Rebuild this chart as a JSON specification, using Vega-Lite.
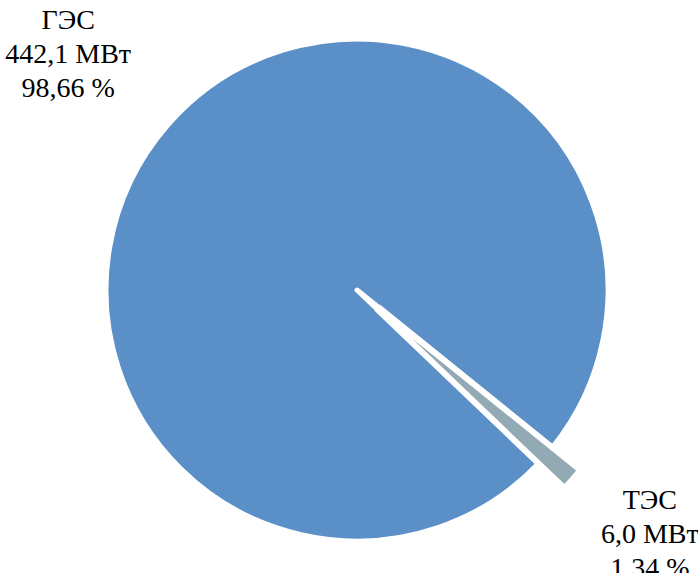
{
  "$schema": "https://vega.github.io/schema/vega-lite/v6.json",
  "width": 682,
  "height": 566,
  "autosize": "none",
  "padding": {"left": 16, "top": 7, "right": 0, "bottom": 0},
  "background": "white",
  "view": {"stroke": null},
  "config": {"font": "Liberation Serif", "text": {"font": "Liberation Serif"}},
  "data": {
    "values": [
      {"name": "ГЭС", "value": 442.1, "label": ["ГЭС", "442,1 МВт", "98,66 %"]},
      {"name": "ТЭС", "value": 6.0, "label": ["ТЭС", "6,0 МВт", "1,34 %"]}
    ]
  },
  "encoding": {
    "theta": {"field": "value", "type": "quantitative", "stack": true, "scale": {"range": [2.3335, 8.6167]}},
    "order": {"field": "name", "sort": "ascending"},
    "color": {"field": "name", "type": "nominal", "scale": {"domain": ["ГЭС", "ТЭС"], "range": ["#5B8FC7", "#93AAB4"]}, "legend": null}
  },
  "layer": [
    {
      "mark": {"type": "arc", "outerRadius": 251, "innerRadius": 0, "stroke": "white", "strokeWidth": 5, "strokeJoin": "round"},
      "encoding": {"opacity": {"condition": {"test": "datum.name === 'ТЭС'", "value": 0}, "value": 1}}
    },
    {
      "mark": {"type": "arc", "outerRadius": 287, "innerRadius": 30, "stroke": "white", "strokeWidth": 6},
      "encoding": {"opacity": {"condition": {"test": "datum.name === 'ГЭС'", "value": 0}, "value": 1}}
    },
    {
      "mark": {"type": "text", "radius": 377, "thetaOffset": -0.031, "dy": -29, "dx": 2, "font": "Liberation Serif", "fontSize": 28, "lineHeight": 34, "align": "center", "baseline": "middle"},
      "encoding": {
        "text": {"field": "label"},
        "color": {"value": "black"}
      }
    }
  ]
}
